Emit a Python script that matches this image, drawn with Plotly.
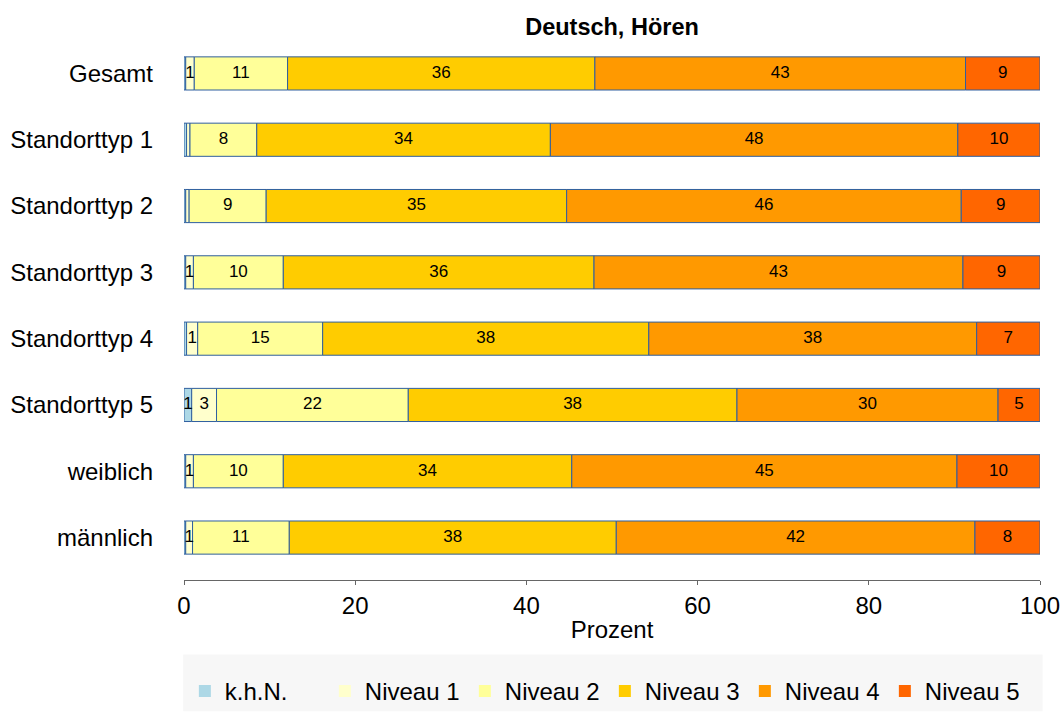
import numpy as np
import plotly.graph_objects as go

# Groups (top to bottom)
groups = ["Gesamt", "Standorttyp 1", "Standorttyp 2", "Standorttyp 3",
          "Standorttyp 4", "Standorttyp 5", "weiblich", "männlich"]

# Percentages per competence level
khn      = [0.2, 0.3, 0.2, 0.2, 0.3, 0.9, 0.2, 0.2]
niveau_1 = [1.0, 0.4, 0.4, 0.9, 1.3, 2.9, 0.9, 0.8]
niveau_2 = [10.9, 7.8, 9.0, 10.5, 14.6, 22.4, 10.5, 11.3]
niveau_3 = [35.9, 34.3, 35.1, 36.3, 38.1, 38.4, 33.7, 38.2]
niveau_4 = [43.3, 47.6, 46.1, 43.1, 38.3, 30.5, 45.0, 41.9]
niveau_5 = [8.7, 9.6, 9.2, 9.0, 7.4, 4.9, 9.7, 7.6]

series_names = ["k.h.N.", "Niveau 1", "Niveau 2", "Niveau 3", "Niveau 4", "Niveau 5"]
series_vals = [khn, niveau_1, niveau_2, niveau_3, niveau_4, niveau_5]
colors = ["#ADD8E6", "#FFFFCC", "#FFFF99", "#FFCC00", "#FF9900", "#FF6600"]

x_ticks = [0, 20, 40, 60, 80, 100]

FONT = "Liberation Sans, Arial, sans-serif"
EDGE = "#2F5F9F"

fig = go.Figure()

start = np.zeros(len(groups))
for name, vals, col in zip(series_names, series_vals, colors):
    v = np.array(vals, dtype=float)
    fig.add_trace(go.Bar(
        y=groups, x=v, base=start, orientation="h", name=name,
        marker=dict(color=col, line=dict(color=EDGE, width=1)),
        width=0.5, showlegend=False, hoverinfo="skip",
    ))
    labels = [str(int(round(x))) if round(x) >= 1 else "" for x in v]
    fig.add_trace(go.Scatter(
        y=groups, x=start + v / 2, mode="text", text=labels,
        textposition="middle center",
        textfont=dict(family=FONT, size=17, color="black"),
        showlegend=False, hoverinfo="skip",
    ))
    start = start + v

# Legend entries as plain square markers
for name, col in zip(series_names, colors):
    fig.add_trace(go.Scatter(
        x=[None], y=[None], mode="markers", name=name,
        marker=dict(symbol="square", size=12, color=col, line=dict(width=0)),
    ))

fig.add_shape(type="rect", xref="paper", yref="paper",
              x0=-0.001, x1=1.003, y0=-0.1355, y1=-0.239,
              fillcolor="#F7F7F7", line=dict(width=0), layer="below")

fig.update_layout(
    width=1063, height=719,
    margin=dict(l=184, r=23, t=30.5, b=138.5, autoexpand=False),
    paper_bgcolor="white", plot_bgcolor="white",
    barmode="overlay",
    font=dict(family=FONT, size=24, color="black"),
    title=dict(text="<b>Deutsch, Hören</b>", x=0.5, xref="paper",
               y=1 - 27 / 719, yref="container", yanchor="middle", xanchor="center",
               font=dict(family=FONT, size=23.5, color="black")),
    xaxis=dict(range=[0, 100], tickvals=x_ticks, ticktext=[str(t) for t in x_ticks],
               showgrid=False, zeroline=False, showline=True, linecolor="#666666",
               linewidth=1, ticks="outside", ticklen=4, tickcolor="#666666",
               tickfont=dict(size=24), title=dict(text="Prozent", standoff=3,
                                                   font=dict(size=24))),
    yaxis=dict(type="category", categoryorder="array", categoryarray=groups,
               range=[7.64, -0.64], showgrid=False, zeroline=False, showline=False,
               ticks="", ticklabelstandoff=30, tickfont=dict(size=24)),
    legend=dict(orientation="h", x=0.001, xanchor="left", y=-0.203, yanchor="middle",
                bgcolor="rgba(0,0,0,0)", entrywidth=95, entrywidthmode="pixels",
                font=dict(family=FONT, size=24), itemclick=False, itemdoubleclick=False),
)

fig.write_html("out.html")
